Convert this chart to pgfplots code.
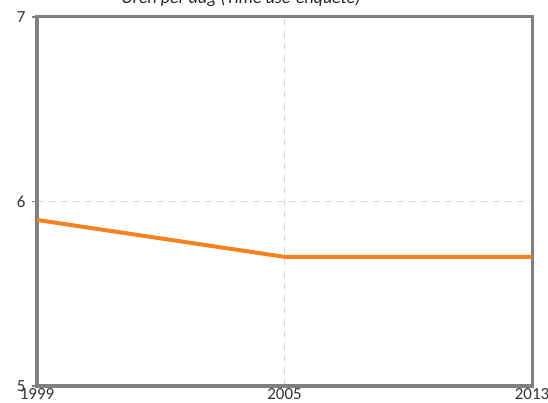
\documentclass[border=0pt]{standalone}
\usepackage{pgfplots}
\pgfplotsset{compat=1.18}
\usepackage{fontspec}
\setmainfont{Carlito}
\usetikzlibrary{calc}
\definecolor{axgray}{RGB}{128,128,128}
\definecolor{gridgray}{RGB}{218,218,218}
\definecolor{lineorange}{RGB}{245,130,32}
\begin{document}
\begin{tikzpicture}
\begin{axis}[
  scale only axis,
  width=495bp, height=369bp,
  xmin=0, xmax=2, ymin=5, ymax=7,
  xtick={0,1,2}, xticklabels={1999,2005,2013},
  ytick={5,6,7},
  ytick pos=left,
  axis line style={axgray, line width=3bp},
  tick style={axgray, line width=1.2bp},
  major tick length=5bp,
  tick align=outside,
  xtick style={draw=none},
  ymajorgrids, xmajorgrids,
  grid style={gridgray, dash pattern=on 7bp off 5bp, line width=1.2bp},
  /pgf/number format/assume math mode=true,
  ticklabel style={font=\fontsize{17}{19}\selectfont, text=black!80},
  xticklabel style={yshift=6bp},
  yticklabel style={xshift=-3bp},
  clip=false,
]
\addplot[lineorange, line width=4bp] coordinates {(0,5.9) (1,5.7) (2,5.7)};
\end{axis}
\node[font=\fontsize{18}{20}\selectfont\itshape, anchor=base, text=black!85] at ($(current axis.north west)+(204bp,13bp)$) {Uren per dag (Time use-enquête)};
\pgfresetboundingbox
\useasboundingbox ($(current axis.south west)+(-37bp,-17bp)$) rectangle ($(current axis.north east)+(16bp,17bp)$);
\end{tikzpicture}
\end{document}
